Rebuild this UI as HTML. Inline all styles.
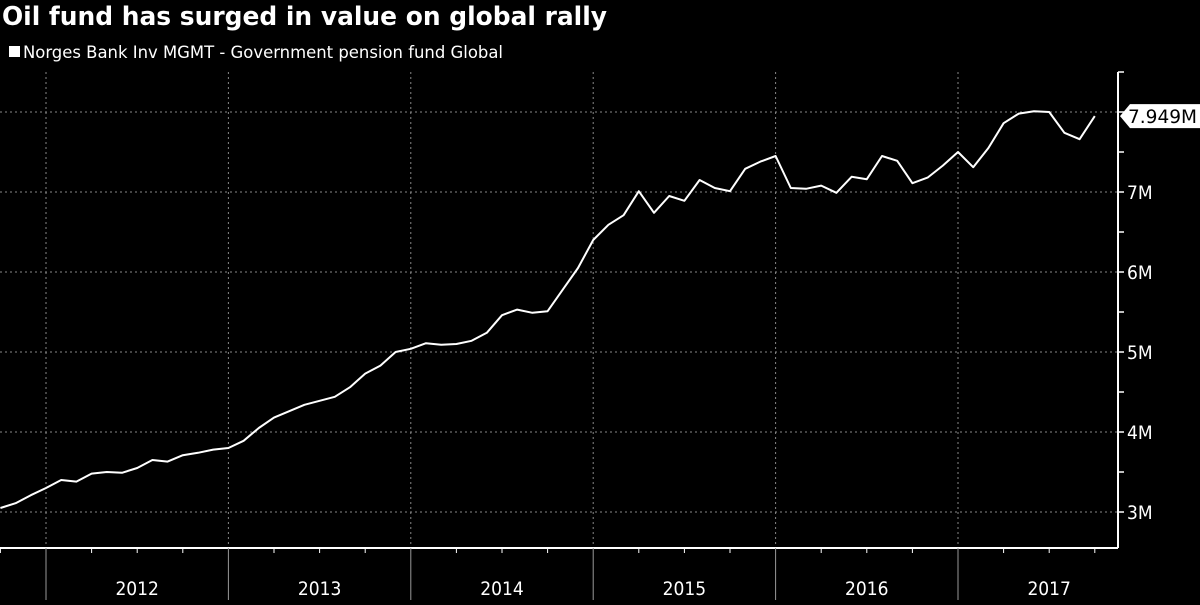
<!DOCTYPE html>
<html><head><meta charset="utf-8"><style>
body{margin:0;background:#000;width:1200px;height:600px;overflow:hidden;font-family:"Liberation Sans","DejaVu Sans",sans-serif}
svg text{font-family:"DejaVu Sans Condensed","Liberation Sans",sans-serif}
</style></head><body>
<svg id="c" width="1200" height="600" xmlns="http://www.w3.org/2000/svg">
<text x="2" y="25" fill="#fff" font-size="26" font-weight="bold" textLength="605" lengthAdjust="spacingAndGlyphs">Oil fund has surged in value on global rally</text>
<rect x="9" y="46" width="11" height="11" fill="#fff"/>
<text x="23" y="58" fill="#fff" font-size="17" textLength="480" lengthAdjust="spacingAndGlyphs">Norges Bank Inv MGMT - Government pension fund Global</text>
<g id="grid"></g><g id="axes"></g><g id="series"></g>
</svg>
<script>
const years=["2012","2013","2014","2015","2016","2017"];
const yTicks=[3,4,5,6,7,8];
const values=[3.05,3.11,3.21,3.30,3.40,3.38,3.48,3.50,3.49,3.55,3.65,3.63,3.71,3.74,3.78,3.80,3.89,4.05,4.18,4.26,4.34,4.39,4.44,4.56,4.73,4.83,5.00,5.04,5.11,5.09,5.10,5.14,5.24,5.46,5.53,5.49,5.51,5.78,6.05,6.40,6.59,6.71,7.01,6.74,6.95,6.89,7.15,7.05,7.01,7.29,7.38,7.45,7.05,7.04,7.08,6.99,7.19,7.16,7.45,7.39,7.11,7.18,7.33,7.50,7.31,7.55,7.86,7.98,8.01,8.00,7.74,7.66,7.949];
const lastLabel="7.949M";
const NS="http://www.w3.org/2000/svg";
const monthW=15.2, x2012=46;
const xOf=i=>x2012+(i-3)*monthW;
const yOf=v=>512-(v-3)*80;
function mk(t,a,p){const e=document.createElementNS(NS,t);for(const k in a)e.setAttribute(k,a[k]);p.appendChild(e);return e;}
const grid=document.getElementById('grid'),axes=document.getElementById('axes'),ser=document.getElementById('series');
yTicks.forEach(v=>{
  const g=mk('line',{x1:0,x2:1118,y1:yOf(v),y2:yOf(v),stroke:'#888','stroke-dasharray':'2,3','stroke-width':1},grid);
  
  
  if(v<8){const t=mk('text',{x:1127,y:yOf(v)+7,fill:'#fff','font-size':19},axes);t.textContent=v+'M';
  
  }
});
for(let v=3;v<=8.5;v+=0.5){const tk=mk('line',{x1:1118,x2:1124,y1:yOf(v),y2:yOf(v),stroke:'#fff','stroke-width':1.5},axes);
  
  }
const ya=mk('line',{x1:1118,x2:1118,y1:72,y2:548,stroke:'#fff','stroke-width':2},axes);


const xa=mk('line',{x1:0,x2:1118,y1:548,y2:548,stroke:'#fff','stroke-width':2},axes);


for(let q=-1;q<25;q++){const x=x2012+q*3*monthW;if(x<0||x>1118)continue;
  const major=q%4===0;
  if(major){const g=mk('line',{x1:x,x2:x,y1:72,y2:548,stroke:'#888','stroke-dasharray':'2,3'},grid);
    
    
    const s=mk('line',{x1:x,x2:x,y1:548,y2:600,stroke:'#999'},axes);
    
    }
  else{const s=mk('line',{x1:x,x2:x,y1:548,y2:553,stroke:'#fff'},axes);
    
    }
}
years.forEach((y,k)=>{const t=mk('text',{x:x2012+(k*12+6)*monthW,y:595,fill:'#fff','font-size':19,'text-anchor':'middle'},axes);t.textContent=y;
  
  });
const pl=mk('polyline',{points:values.map((v,i)=>xOf(i)+','+yOf(v)).join(' '),fill:'none',stroke:'#fff','stroke-width':2,'stroke-linejoin':'round'},ser);


const ly=yOf(values[values.length-1]);
const tag=mk('path',{d:`M1120 ${ly} L1130 ${ly-12} H1200 V${ly+12} H1130 Z`,fill:'#fff'},axes);


const tt=mk('text',{x:1128,y:ly+7,fill:'#000','font-size':19,textLength:69,lengthAdjust:'spacingAndGlyphs'},axes);tt.textContent=lastLabel;


</script>
</body></html>
